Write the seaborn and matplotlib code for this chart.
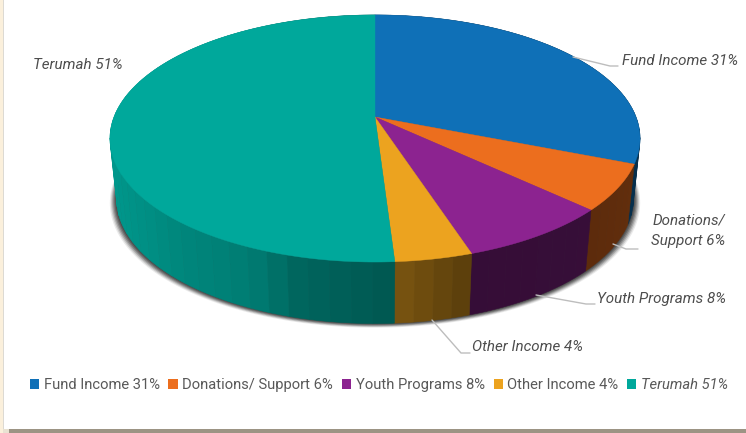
import numpy as np
import matplotlib
matplotlib.use("Agg")
import matplotlib.pyplot as plt
from matplotlib.patches import Patch, Rectangle
import seaborn as sns

categories = ["Fund Income", "Donations/ Support", "Youth Programs", "Other Income", "Terumah"]
values = [31, 6, 8, 4, 51]
slice_colors = ["#0F70B7", "#EC6E1E", "#8C2390", "#ECA31F", "#00A89B"]
callout_text = ["Fund Income 31%", "Donations/\nSupport 6%", "Youth Programs 8%", "Other Income 4%", "Terumah 51%"]

sns.set_theme(style="white")
plt.rcParams["font.family"] = ["Roboto", "DejaVu Sans"]
palette = sns.color_palette(slice_colors)

fig = plt.figure(figsize=(7.46, 4.33), dpi=100, facecolor="white")
ax = fig.add_axes([0, 0, 1, 1])
ax.set_xlim(0, 746)
ax.set_ylim(433, 0)
ax.axis("off")

# perspective disc
CX, CY, K, AY, AX = 375.0, 117.0, 0.174, 119.8, 261.0
DEPTH, SX, SY = 60.0, 0.975, 1.01


def top_rim(theta):
    t = np.radians(theta)
    u, v = np.sin(t), np.cos(t)
    w = 1 + K * v
    return CX + AX * u / w, CY - AY * v / w


def bottom_rim(theta):
    x, y = top_rim(theta)
    return CX + (x - CX) * SX, CY + DEPTH + (y - CY) * SY


edges = np.concatenate([[0], np.cumsum(values)]) / np.sum(values) * 360.0

# soft shadow under the disc
ring = np.linspace(0, 360, 361)
bx, by = bottom_rim(ring)
for k in np.arange(6, 0, -1):
    ax.fill(CX + (bx - CX) * (1 + k / 230), by + 0.7 * k, color="#333333", alpha=0.10 + 0.07 * (6 - k), lw=0, zorder=1)

# side wall
knot_x = [110, 180, 250, 300, 395, 470, 590, 640]
knot_b = [0.90, 0.80, 0.74, 0.60, 0.52, 0.38, 0.39, 0.42]
for i, col in enumerate(palette):
    a, b = edges[i], edges[i + 1]
    n = max(2, int(np.ceil((b - a) / 4.0)))
    steps = np.linspace(a, b, n + 1)
    for s0, s1 in zip(steps[:-1], steps[1:]):
        th = np.linspace(s0, s1, 5)
        tx, ty = top_rim(th)
        ux, uy = bottom_rim(th)
        f = np.interp(tx.mean(), knot_x, knot_b)
        shade = tuple(c * f for c in col)
        ax.fill(np.r_[tx, ux[::-1]], np.r_[ty, uy[::-1]], color=shade, lw=0.4, zorder=2)

# top face
for i, col in enumerate(palette):
    th = np.linspace(edges[i], edges[i + 1], 200)
    tx, ty = top_rim(th)
    ax.fill(np.r_[CX, tx], np.r_[CY, ty], color=col, lw=0.3, zorder=3)

# callouts
label_style = dict(fontsize=10.9, style="italic", color="#4d4d4d", zorder=6)
ax.text(622, 61, callout_text[0], ha="left", va="center", **label_style)
ax.text(725, 231, callout_text[1], ha="right", va="center", linespacing=1.55, multialignment="right", **label_style)
ax.text(597, 299, callout_text[2], ha="left", va="center", **label_style)
ax.text(472, 347, callout_text[3], ha="left", va="center", **label_style)
ax.text(33, 65, callout_text[4], ha="left", va="center", **label_style)

leaders = [
    ([573, 610, 618], [57, 66, 66]),
    ([613, 626, 638], [244, 249, 249]),
    ([536, 586, 595], [295, 304, 304]),
    ([432, 461, 470], [320, 353, 353]),
]
for lx, ly in leaders:
    ax.plot(lx, ly, color="#bdbdbd", lw=1.0, zorder=5, solid_capstyle="round")

# legend
handles = [Patch(facecolor=c, edgecolor="none") for c in palette]
labels = [f"{n} {v}%" for n, v in zip(categories, values)]
leg = ax.legend(handles, labels, ncol=5, loc="center", bbox_to_anchor=(379 / 746, 1 - 385 / 433),
                bbox_transform=ax.transAxes, frameon=False, fontsize=10.6, handlelength=0.62,
                handleheight=0.62, handletextpad=0.32, columnspacing=0.60, labelcolor="#595959")
leg.get_texts()[-1].set_fontstyle("italic")

# page edge
ax.add_patch(Rectangle((0, 0), 3, 433, facecolor="#FBF0DC", edgecolor="none", zorder=7))
ax.add_patch(Rectangle((3, 0), 1, 429, facecolor="#DDDAD3", edgecolor="none", zorder=7))
ax.add_patch(Rectangle((9, 429), 737, 4, facecolor="#9C9484", edgecolor="none", zorder=7))
ax.add_patch(Rectangle((3, 429), 6, 4, facecolor="#E9E2D2", edgecolor="none", zorder=7))

fig.savefig("out.png", dpi=100, facecolor="white")
